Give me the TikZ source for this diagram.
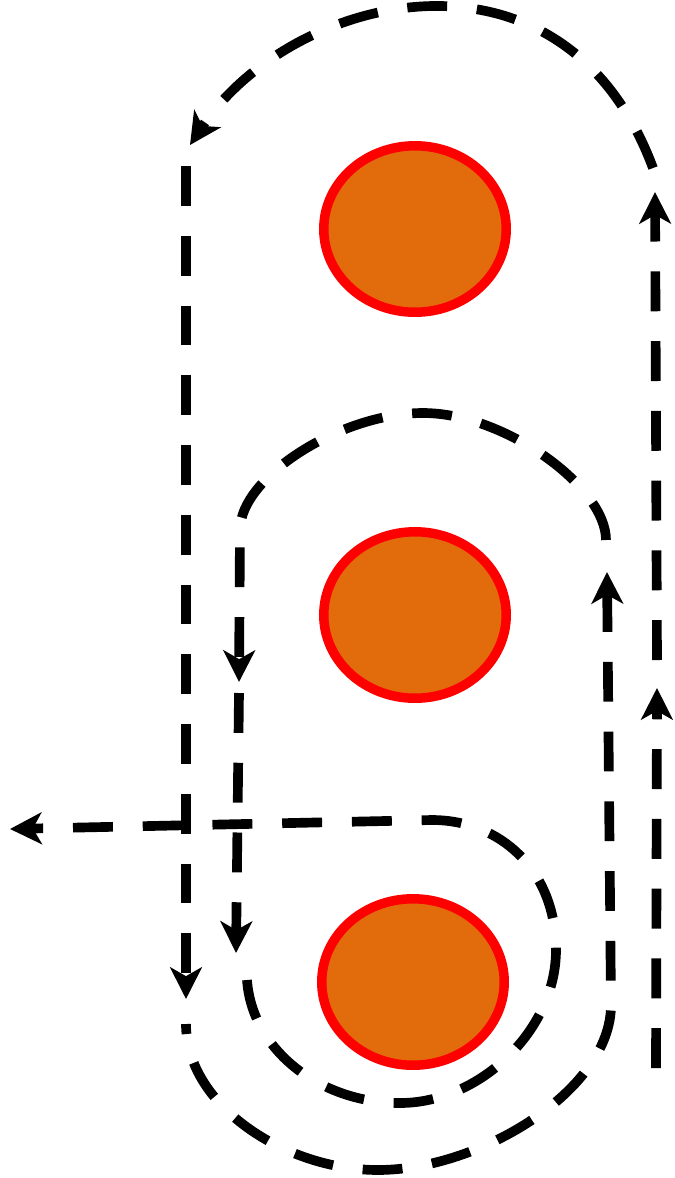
\documentclass[tikz,border=0pt]{standalone}
\usepackage{xcolor}
\definecolor{ballorange}{RGB}{226,108,12}
\definecolor{ballred}{RGB}{255,0,0}
\usepackage{tikz}
\usetikzlibrary{arrows.meta,positioning,shapes.geometric}

\begin{document}
\begin{tikzpicture}[
  x=0.02cm, y=-0.02cm,
  ball/.style={ellipse, draw=ballred, fill=ballorange, line width=5.4pt,
               minimum width=3.65cm, minimum height=3.33cm, inner sep=0pt},
  orbit/.style={draw=black, line width=5.5pt, dash pattern=on 22.7pt off 17pt},
  tip/.style={-{Stealth[length=18pt, width=18pt, inset=5pt]}}
]
\useasboundingbox (0,0) rectangle (674,1178);

% balls
\node[ball] (top) at (415,229) {};
\node[ball] (mid) at (415,615) {};
\node[ball] (bot) at (413,982) {};

% outer loop
\coordinate (o0) at (656,1068);
\coordinate (o1) at (657,688);
\coordinate (o2) at (657,660);
\coordinate (o3) at (655,192);
\coordinate (o4) at (653,168);
\coordinate (o5) at (190,145);
\coordinate (o6) at (186,146);
\coordinate (o7) at (186,999);
\coordinate (o8) at (186,1024);
\coordinate (o9) at (378,1170);
\coordinate (o10) at (611,1005);
% middle loop
\coordinate (m0) at (607,572);
\coordinate (m1) at (606,540);
\coordinate (m2) at (423,413);
\coordinate (m3) at (240,530);
\coordinate (m4) at (239,682);
\coordinate (m5) at (239,693);
\coordinate (m6) at (236,953);
% inner loop
\coordinate (i0) at (247,980);
\coordinate (i1) at (400,1103);
\coordinate (i2) at (556,950);
\coordinate (i3) at (432,820);
\coordinate (i4) at (10,829);

\draw[orbit, tip] (o0) -- (o1);
\draw[orbit, tip] (o2) -- (o3);
\draw[orbit, tip] (o4) .. controls (562,-76) and (290,-6) .. (o5);
\draw[orbit, tip, dash phase=28.3pt] (o6) -- (o7);
\draw[orbit, tip, dash phase=17pt] (o8) .. controls (186,1105) and (285,1170) .. (o9)
  .. controls (480,1170) and (611,1090) .. (o10) -- (m0);
\draw[orbit, tip] (m1) .. controls (606,487) and (505,413) .. (m2)
  .. controls (341,413) and (240,477) .. (m3) -- (m4);
\draw[orbit, tip] (m5) -- (m6);
\draw[orbit, tip] (i0) .. controls (252,1050) and (320,1103) .. (i1)
  .. controls (480,1103) and (556,1030) .. (i2)
  .. controls (556,870) and (500,820) .. (i3) -- (i4);
\end{tikzpicture}
\end{document}
